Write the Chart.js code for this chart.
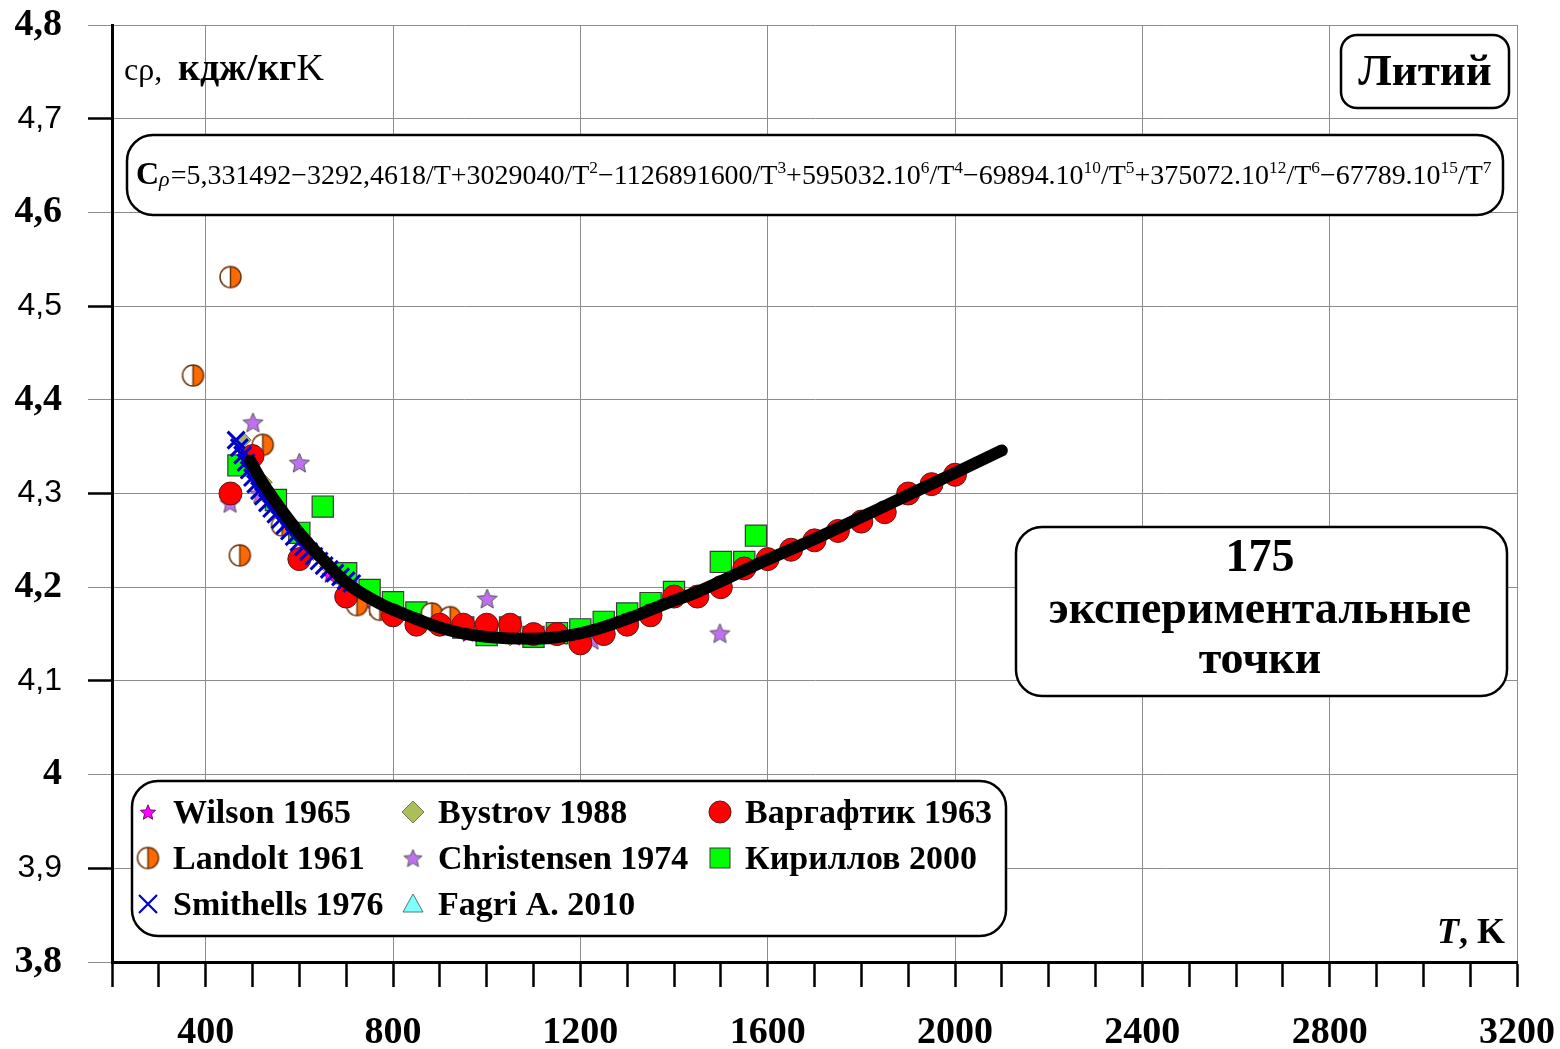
<!DOCTYPE html>
<html>
<head>
<meta charset="utf-8">
<script src="https://cdn.jsdelivr.net/npm/chart.js@4.4.0/dist/chart.umd.min.js"></script>
<style>
  html, body { margin: 0; padding: 0; background: #fff; }
  #wrap { width: 1560px; height: 1049px; }
</style>
</head>
<body>
<div id="wrap"><canvas id="cp" width="1560" height="1049"></canvas></div>
<script>
// значения (T, K -> Cp, кДж/кгК)
const curveT = [495, 520, 560, 600, 650, 700, 770, 840, 920, 1000, 1100, 1170, 1240, 1310, 1380, 1450, 1580, 1720, 1860, 2000, 2100];
const curveCp = [4.335, 4.313, 4.284, 4.258, 4.230, 4.205, 4.183, 4.168, 4.154, 4.147, 4.145, 4.148, 4.156, 4.168, 4.182, 4.195, 4.225, 4.256, 4.289, 4.322, 4.346];

const vargaT = [453, 500, 600, 700, 800, 850, 900, 950, 1000, 1050, 1100, 1150, 1200, 1250, 1300, 1350, 1400, 1450, 1500, 1550, 1600, 1650, 1700, 1750, 1800, 1850, 1900, 1950, 2000];
const vargaCp = [4.30, 4.34, 4.23, 4.19, 4.17, 4.16, 4.16, 4.16, 4.16, 4.16, 4.15, 4.15, 4.14, 4.15, 4.16, 4.17, 4.19, 4.19, 4.20, 4.22, 4.23, 4.24, 4.25, 4.26, 4.27, 4.28, 4.30, 4.31, 4.32];

const kirillovT = [470, 550, 600, 650, 700, 750, 800, 850, 900, 950, 1000, 1050, 1100, 1150, 1200, 1250, 1300, 1350, 1400, 1500, 1550, 1575];
const kirillovCp = [4.330, 4.293, 4.258, 4.286, 4.215, 4.197, 4.184, 4.173, 4.165, 4.157, 4.149, 4.157, 4.147, 4.151, 4.155, 4.163, 4.172, 4.183, 4.195, 4.227, 4.227, 4.255];

const landoltT = [373, 453, 473, 522, 563, 723, 772, 883, 922];
const landoltCp = [4.426, 4.531, 4.234, 4.352, 4.266, 4.181, 4.176, 4.172, 4.168];

const smithellsT = [465, 472, 479, 486, 493, 500, 507, 515, 523, 532, 541, 550, 559, 569, 579, 589, 599, 609, 620, 631, 642, 653, 664, 676, 688, 700, 712];
const smithellsCp = [4.357, 4.349, 4.341, 4.333, 4.325, 4.317, 4.310, 4.303, 4.297, 4.290, 4.284, 4.278, 4.272, 4.266, 4.260, 4.254, 4.248, 4.243, 4.238, 4.233, 4.228, 4.223, 4.219, 4.215, 4.211, 4.207, 4.204];

const bystrovT = [480, 500, 525, 550, 575, 600, 630, 660, 690, 720, 750, 780, 820, 860, 900, 950, 1000, 1050, 1100, 1150, 1200];
const bystrovCp = [4.357, 4.335, 4.312, 4.292, 4.272, 4.255, 4.237, 4.222, 4.208, 4.197, 4.188, 4.180, 4.172, 4.165, 4.158, 4.152, 4.148, 4.146, 4.146, 4.148, 4.150];

const wilsonT = [490, 565, 610, 665, 700, 760, 860, 960, 1060, 1160];
const wilsonCp = [4.330, 4.268, 4.245, 4.213, 4.200, 4.178, 4.160, 4.150, 4.146, 4.147];

const christensenT = [452, 501, 516, 600, 1001, 1225, 1498];
const christensenCp = [4.290, 4.376, 4.300, 4.333, 4.188, 4.144, 4.151];

const fagriT = [1200, 1250, 1300, 1350, 1400, 1450, 1500, 1550, 1600, 1650, 1700, 1750, 1800, 1850, 1900, 1950, 2000];
const fagriCp = [4.143, 4.150, 4.158, 4.170, 4.185, 4.193, 4.200, 4.215, 4.228, 4.238, 4.250, 4.260, 4.270, 4.282, 4.298, 4.310, 4.320];

const xLabelStep = 400;
const GRID = "#8c8c8c";
const SERIF = "'Liberation Serif', 'Times New Roman', serif";

const pts = (xs, ys) => xs.map((x, i) => ({ x, y: ys[i] }));

function starImg(fill, stroke, R) {
  const c = document.createElement("canvas");
  const s = Math.ceil(2 * R + 4);
  c.width = c.height = s;
  const g = c.getContext("2d");
  g.translate(s / 2, s / 2 + R * 0.1);
  g.beginPath();
  for (let i = 0; i < 10; i++) {
    const r = i % 2 ? R * 0.45 : R;
    const a = -Math.PI / 2 + (i * Math.PI) / 5;
    g.lineTo(r * Math.cos(a), r * Math.sin(a));
  }
  g.closePath();
  g.fillStyle = fill;
  g.fill();
  g.lineWidth = 1;
  g.strokeStyle = stroke;
  g.stroke();
  return c;
}

function halfImg(R) {
  const c = document.createElement("canvas");
  const s = Math.ceil(2 * R + 4);
  c.width = c.height = s;
  const g = c.getContext("2d");
  const m = s / 2;
  g.beginPath();
  g.arc(m, m, R, 0, Math.PI * 2);
  g.fillStyle = "#fff";
  g.fill();
  g.beginPath();
  g.moveTo(m, m - R);
  g.arc(m, m, R, -Math.PI / 2, Math.PI / 2);
  g.closePath();
  g.fillStyle = "#ff6a00";
  g.fill();
  g.beginPath();
  g.arc(m, m, R, 0, Math.PI * 2);
  g.moveTo(m, m - R);
  g.lineTo(m, m + R);
  g.lineWidth = 1.5;
  g.strokeStyle = "#6e3408";
  g.stroke();
  return c;
}

const wilsonStar = starImg("#ff00ff", "#7a007a", 8);
const christStar = starImg("#bf6ff0", "#555", 10.5);
const landoltMark = halfImg(10.5);

const datasets = [
  {
    label: "curve",
    data: pts(curveT, curveCp),
    showLine: true,
    borderColor: "#000",
    borderWidth: 12,
    borderCapStyle: "round",
    cubicInterpolationMode: "monotone",
    pointRadius: 0,
    order: 0,
  },
  {
    label: "Smithells 1976",
    data: pts(smithellsT, smithellsCp),
    pointStyle: "crossRot",
    pointRadius: 12,
    borderColor: "#0000cc",
    borderWidth: 3,
    order: 1,
  },
  {
    label: "Варгафтик 1963",
    data: pts(vargaT, vargaCp),
    pointStyle: "circle",
    pointRadius: 11.5,
    backgroundColor: "#ff0000",
    borderColor: "#5a1a1a",
    borderWidth: 1,
    order: 2,
  },
  {
    label: "Landolt 1961",
    data: pts(landoltT, landoltCp),
    pointStyle: landoltMark,
    order: 3,
  },
  {
    label: "Кириллов 2000",
    data: pts(kirillovT, kirillovCp),
    pointStyle: "rect",
    pointRadius: 15,
    backgroundColor: "#00ff00",
    borderColor: "#3a3a3a",
    borderWidth: 1.2,
    order: 4,
  },
  {
    label: "Bystrov 1988",
    data: pts(bystrovT, bystrovCp),
    pointStyle: "rectRot",
    pointRadius: 8,
    backgroundColor: "#aab866",
    borderColor: "#77774a",
    borderWidth: 1,
    order: 5,
  },
  {
    label: "Fagri A. 2010",
    data: pts(fagriT, fagriCp),
    pointStyle: "triangle",
    pointRadius: 8,
    backgroundColor: "#80ffff",
    borderColor: "#4a7a7a",
    borderWidth: 1,
    order: 6,
  },
  {
    label: "Wilson 1965",
    data: pts(wilsonT, wilsonCp),
    pointStyle: wilsonStar,
    order: 7,
  },
  {
    label: "Christensen 1974",
    data: pts(christensenT, christensenCp),
    pointStyle: christStar,
    order: 8,
  },
];

function roundBox(ctx, x, y, w, h, r, lw) {
  ctx.beginPath();
  ctx.roundRect(x, y, w, h, r);
  ctx.fillStyle = "#fff";
  ctx.fill();
  ctx.lineWidth = lw || 2.5;
  ctx.strokeStyle = "#000";
  ctx.stroke();
}

// текст с верхними индексами: "T^2", "10^{10}"
function richParts(s) {
  const out = [];
  const re = /\^\{?(\d+)\}?/g;
  let last = 0, m;
  while ((m = re.exec(s))) {
    if (m.index > last) out.push([s.slice(last, m.index), false]);
    out.push([m[1], true]);
    last = re.lastIndex;
  }
  if (last < s.length) out.push([s.slice(last), false]);
  return out;
}

function richWidth(ctx, parts, size) {
  let w = 0;
  parts.forEach(([t, sup]) => {
    ctx.font = (sup ? size * 0.62 : size) + "px " + SERIF;
    w += ctx.measureText(t).width;
  });
  return w;
}

function drawRich(ctx, parts, x, y, size) {
  parts.forEach(([t, sup]) => {
    ctx.font = (sup ? size * 0.62 : size) + "px " + SERIF;
    ctx.fillText(t, x, sup ? y - size * 0.38 : y);
    x += ctx.measureText(t).width;
  });
}

function legendMark(ctx, name, x, y) {
  ctx.save();
  ctx.lineWidth = 1;
  if (name === "Wilson 1965") {
    ctx.drawImage(wilsonStar, x - wilsonStar.width / 2, y - wilsonStar.height / 2);
  } else if (name === "Christensen 1974") {
    const st = starImg("#bf6ff0", "#555", 9.5);
    ctx.drawImage(st, x - st.width / 2, y - st.height / 2);
  } else if (name === "Landolt 1961") {
    ctx.drawImage(landoltMark, x - landoltMark.width / 2, y - landoltMark.height / 2);
  } else if (name === "Smithells 1976") {
    ctx.beginPath();
    ctx.moveTo(x - 9, y - 9); ctx.lineTo(x + 9, y + 9);
    ctx.moveTo(x + 9, y - 9); ctx.lineTo(x - 9, y + 9);
    ctx.strokeStyle = "#0000cc";
    ctx.lineWidth = 2.2;
    ctx.stroke();
  } else if (name === "Bystrov 1988") {
    ctx.beginPath();
    ctx.moveTo(x, y - 11); ctx.lineTo(x + 11, y); ctx.lineTo(x, y + 11); ctx.lineTo(x - 11, y);
    ctx.closePath();
    ctx.fillStyle = "#aabf5c"; ctx.fill();
    ctx.strokeStyle = "#77774a"; ctx.stroke();
  } else if (name === "Fagri A. 2010") {
    ctx.beginPath();
    ctx.moveTo(x, y - 10); ctx.lineTo(x + 10, y + 8); ctx.lineTo(x - 10, y + 8);
    ctx.closePath();
    ctx.fillStyle = "#80ffff"; ctx.fill();
    ctx.strokeStyle = "#4a7a7a"; ctx.stroke();
  } else if (name === "Варгафтик 1963") {
    ctx.beginPath();
    ctx.arc(x, y, 11, 0, Math.PI * 2);
    ctx.fillStyle = "#ff0000"; ctx.fill();
    ctx.strokeStyle = "#5a1a1a"; ctx.stroke();
  } else if (name === "Кириллов 2000") {
    ctx.fillStyle = "#00ff00";
    ctx.fillRect(x - 10, y - 10, 20, 20);
    ctx.strokeStyle = "#3a3a3a";
    ctx.strokeRect(x - 10, y - 10, 20, 20);
  }
  ctx.restore();
}

const legendCols = [
  ["Wilson 1965", "Landolt 1961", "Smithells 1976"],
  ["Bystrov 1988", "Christensen 1974", "Fagri A. 2010"],
  ["Варгафтик 1963", "Кириллов 2000"],
];

const formula = "=5,331492−3292,4618/T+3029040/T^2−1126891600/T^3+595032.10^6/T^4−69894.10^{10}/T^5+375072.10^{12}/T^6−67789.10^{15}/T^7";

const decor = {
  id: "decor",
  afterDraw(chart) {
    const ctx = chart.ctx;
    ctx.save();
    ctx.fillStyle = "#000";
    ctx.textBaseline = "alphabetic";
    ctx.textAlign = "left";

    // подпись оси Y
    ctx.font = "32px " + SERIF;
    ctx.fillText("cρ,", 124, 80);
    ctx.font = "bold 38px " + SERIF;
    ctx.fillText("кдж/кг", 178, 80);
    const wk = ctx.measureText("кдж/кг").width;
    ctx.font = "38px " + SERIF;
    ctx.fillText("K", 178 + wk, 80);

    // формула
    roundBox(ctx, 127, 135, 1376, 80, 26, 2.5);
    ctx.fillStyle = "#000";
    ctx.font = "bold 32px " + SERIF;
    ctx.fillText("C", 136, 184);
    const wc = ctx.measureText("C").width;
    ctx.font = "italic 22px " + SERIF;
    ctx.fillText("ρ", 136 + wc, 186);
    const wr = ctx.measureText("ρ").width;
    const x0 = 136 + wc + wr + 1;
    const parts = richParts(formula);
    const w24 = richWidth(ctx, parts, 24);
    const fs = Math.min(30, (24 * (1492 - x0)) / w24);
    drawRich(ctx, parts, x0, 184, fs);

    // Литий
    roundBox(ctx, 1341, 35, 168, 73, 16, 2.5);
    ctx.fillStyle = "#000";
    ctx.textAlign = "center";
    ctx.textBaseline = "middle";
    ctx.font = "bold 45px " + SERIF;
    ctx.fillText("Литий", 1425, 73);

    // число точек
    roundBox(ctx, 1016, 527, 491, 169, 26, 2.5);
    ctx.fillStyle = "#000";
    ctx.font = "bold 46px " + SERIF;
    ctx.fillText("175", 1260, 559);
    ctx.fillText("экспериментальные", 1260, 611);
    ctx.fillText("точки", 1260, 661);

    // легенда
    roundBox(ctx, 132, 781, 874, 155, 26, 2.5);
    const colX = [148, 413, 720];
    const rowY = [812, 858, 904];
    ctx.textAlign = "left";
    ctx.font = "bold 34px " + SERIF;
    legendCols.forEach((col, ci) => {
      col.forEach((name, ri) => {
        legendMark(ctx, name, colX[ci], rowY[ri]);
        ctx.fillStyle = "#000";
        ctx.fillText(name, colX[ci] + 25, rowY[ri] + 2);
      });
    });

    // подпись оси X
    ctx.textBaseline = "alphabetic";
    ctx.textAlign = "right";
    ctx.font = "bold 36px " + SERIF;
    const wK = ctx.measureText(", K").width;
    ctx.fillText(", K", 1505, 943);
    ctx.font = "italic bold 36px " + SERIF;
    ctx.fillText("T", 1505 - wK, 943);
    ctx.restore();
  },
};

new Chart(document.getElementById("cp"), {
  type: "scatter",
  data: { datasets },
  options: {
    responsive: false,
    animation: false,
    events: [],
    layout: { padding: { top: 25, right: 43, left: 0, bottom: 0 } },
    plugins: { legend: { display: false }, tooltip: { enabled: false } },
    scales: {
      x: {
        type: "linear",
        min: 200,
        max: 3200,
        afterFit: (s) => {
          s.height = 87;
          s.paddingLeft = 0;
          s.paddingRight = 0;
        },
        border: { color: "#000", width: 3 },
        grid: {
          color: (c) => (c.tick && c.tick.value % xLabelStep === 0 ? GRID : "rgba(0,0,0,0)"),
          lineWidth: 1,
          tickColor: "#000",
          tickWidth: 2.5,
          tickLength: 25,
        },
        ticks: {
          stepSize: 100,
          autoSkip: false,
          maxRotation: 0,
          padding: 23,
          color: "#000",
          font: { family: SERIF, size: 38, weight: "bold" },
          callback: (v) => (v % xLabelStep === 0 && v > 200 ? String(v) : ""),
        },
      },
      y: {
        min: 3.8,
        max: 4.8,
        afterFit: (s) => {
          s.width = 112;
          s.paddingTop = 0;
          s.paddingBottom = 0;
        },
        border: { color: "#000", width: 3 },
        grid: {
          color: GRID,
          lineWidth: 1,
          tickColor: (c) => (c.index % 2 ? "#000" : GRID),
          tickWidth: (c) => (c.index % 2 ? 2.5 : 1),
          tickLength: 24,
        },
        ticks: {
          stepSize: 0.1,
          padding: 26,
          color: "#000",
          font: (c) =>
            c.index % 2 === 0
              ? { family: SERIF, size: 38, weight: "bold" }
              : { family: "'Liberation Sans', Arial, sans-serif", size: 32, weight: "normal" },
          callback: (v) => String(Math.round(v * 10) / 10).replace(".", ","),
        },
      },
    },
  },
  plugins: [decor],
});
</script>
</body>
</html>
